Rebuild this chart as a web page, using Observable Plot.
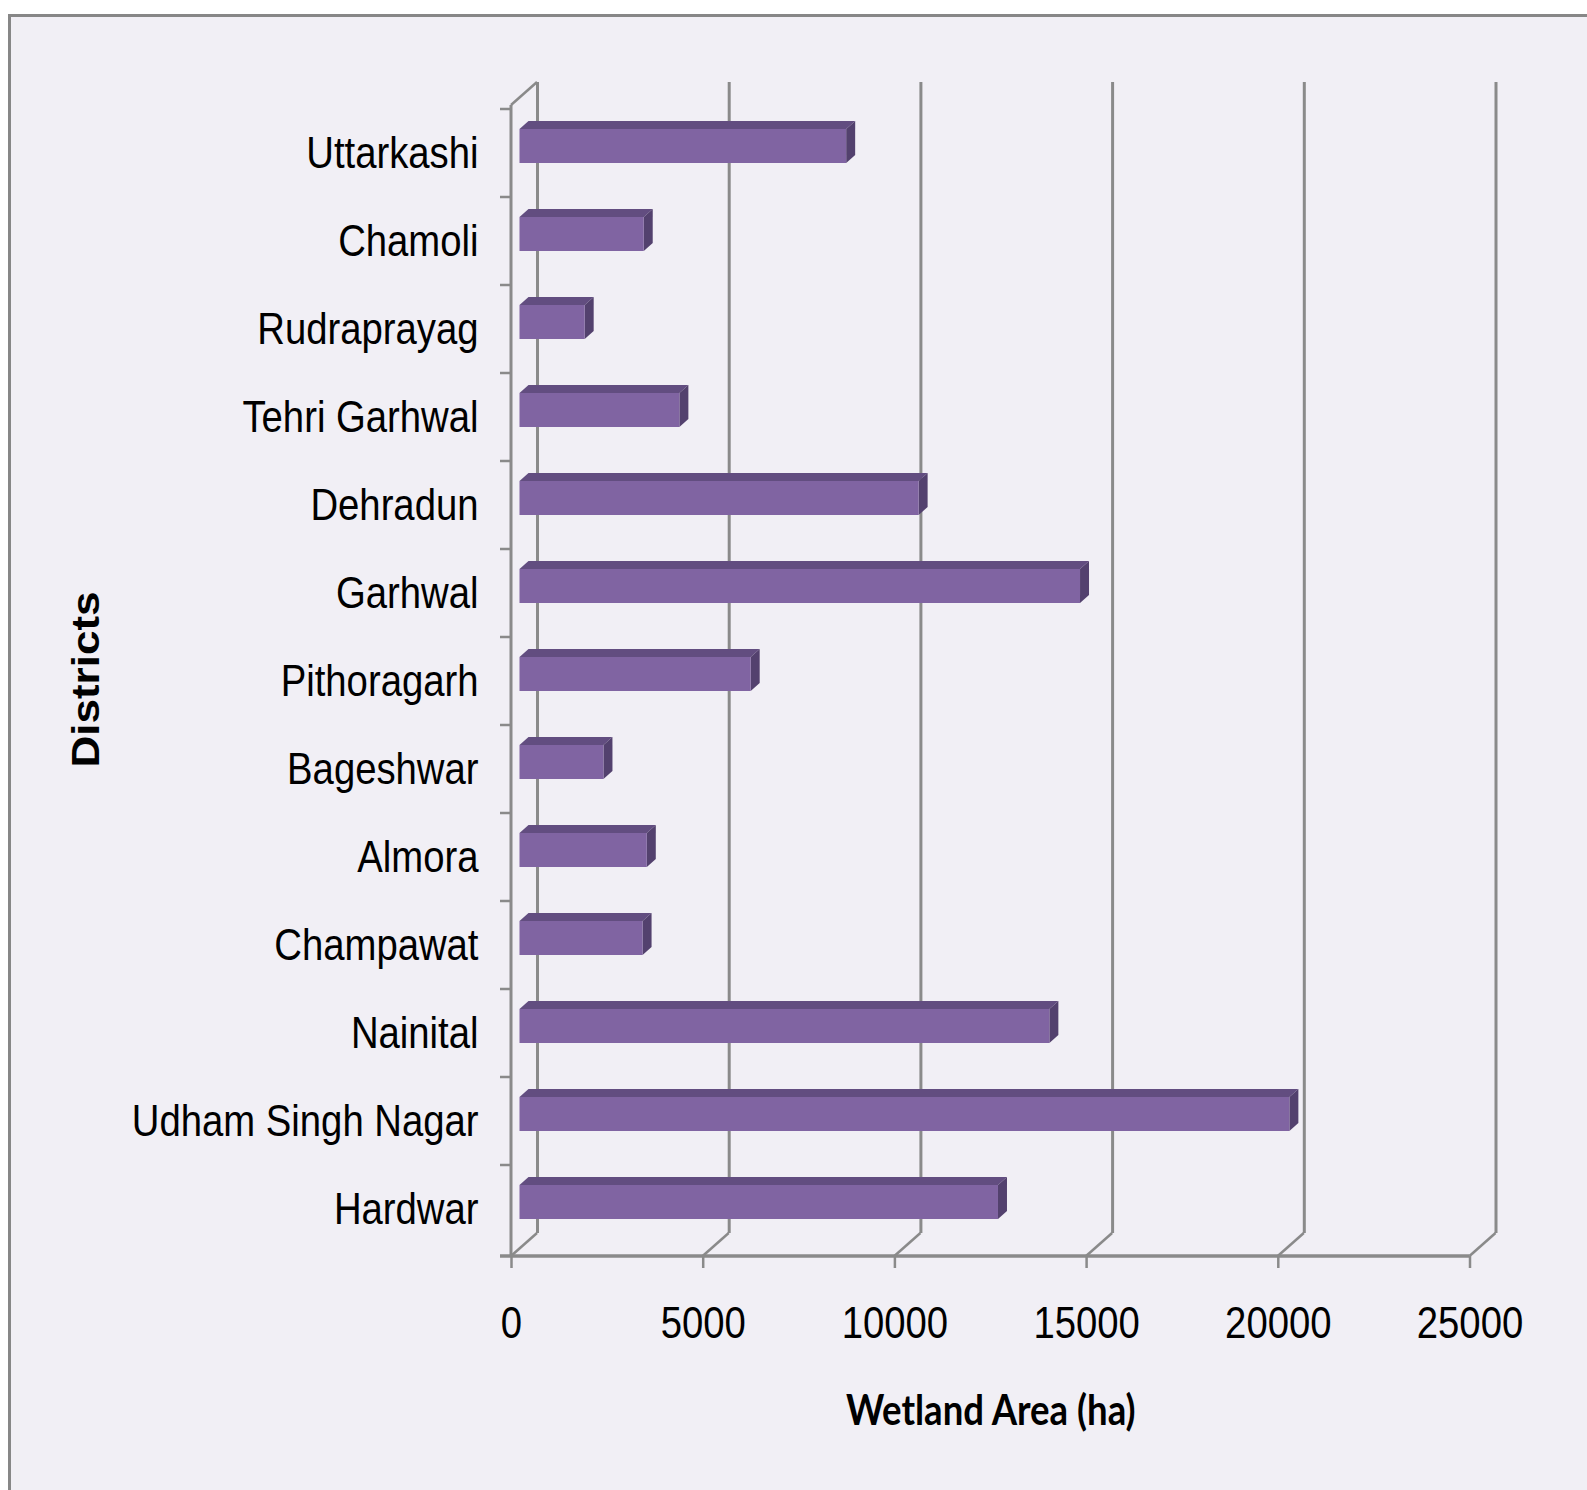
<!DOCTYPE html>
<html>
<head>
<meta charset="utf-8">
<script src="https://cdn.jsdelivr.net/npm/d3@7"></script>
<script src="https://cdn.jsdelivr.net/npm/@observablehq/plot@0.6"></script>
<style>
  html, body { margin: 0; padding: 0; background: #ffffff; overflow: hidden; width: 1587px; height: 1490px; }
  #frame { position: absolute; left: 8px; top: 14px; width: 1600px; height: 1500px;
           border-left: 3.5px solid #878787; border-top: 3.5px solid #878787; background: #f1eff5; }
  #chart { position: absolute; left: 0; top: 0; }
</style>
</head>
<body>
<div id="frame"></div>
<div id="chart"></div>
<script>
// ---- data ----
const districts = ["Uttarkashi", "Chamoli", "Rudraprayag", "Tehri Garhwal", "Dehradun", "Garhwal",
  "Pithoragarh", "Bageshwar", "Almora", "Champawat", "Nainital", "Udham Singh Nagar", "Hardwar"];
const wetlandArea = [8520, 3240, 1700, 4170, 10410, 14620, 6030, 2190, 3320, 3210, 13820, 20080, 12480];
const xTicks = [0, 5000, 10000, 15000, 20000, 25000];
const xTitle = "Wetland Area (ha)";
const yTitle = "Districts";

const rows = districts.map((d, i) => ({district: d, area: wetlandArea[i]}));

// ---- style constants ----
const WALL_DX = 26, WALL_DY = -23;      // depth of the 3-D wall
const BAR_DX = 8.5, BAR_DY = -7;        // bar front face position in depth
const FACE_DX = 9, FACE_DY = -8;        // bar thickness in depth
const GRID = "#8a8a8a";
const FRONT = "#8064a2", TOP = "#624d80", SIDE = "#53416e";
const SQUASH = 0.87;

function bw(y) { return typeof y.bandwidth === "function" ? y.bandwidth() : y.bandwidth; }

// floor / axis decorations drawn with the plot's scales
function axisDecor(index, scales, values, dims) {
  const {x, y} = scales;
  const yb = dims.height - dims.marginBottom;
  const yt = dims.marginTop;
  const g = d3.create("svg:g").attr("stroke", GRID).attr("fill", "none");
  for (const t of xTicks) {
    g.append("line").attr("x1", x(t)).attr("y1", yb).attr("x2", x(t) + WALL_DX).attr("y2", yb + WALL_DY)
      .attr("stroke-width", 2.5);
  }
  g.append("line").attr("x1", x(0)).attr("y1", yt).attr("x2", x(0) + WALL_DX).attr("y2", yt + WALL_DY)
    .attr("stroke-width", 2.5);
  g.append("line").attr("x1", x(0)).attr("y1", yt).attr("x2", x(0)).attr("y2", yb).attr("stroke-width", 3);
  g.append("line").attr("x1", x(0) - 11).attr("y1", yb).attr("x2", x(xTicks[xTicks.length - 1])).attr("y2", yb)
    .attr("stroke-width", 3.5);
  const step = y(districts[1]) - y(districts[0]);
  const off = (step - bw(y)) / 2;
  districts.forEach(d => {
    const yy = y(d) - off;
    g.append("line").attr("x1", x(0) - 11).attr("x2", x(0)).attr("y1", yy).attr("y2", yy).attr("stroke-width", 2.5);
  });
  return g.node();
}

// 3-D top and side faces of the bars
function barFaces(index, scales) {
  const {x, y} = scales;
  const h = bw(y);
  const g = d3.create("svg:g");
  rows.forEach(r => {
    const x0 = x(0) + BAR_DX, x1 = x(r.area) + BAR_DX;
    const top = y(r.district) + BAR_DY, bot = top + h;
    g.append("path").attr("fill", TOP)
      .attr("d", `M${x0},${top}L${x1},${top}L${x1 + FACE_DX},${top + FACE_DY}L${x0 + FACE_DX},${top + FACE_DY}Z`);
    g.append("path").attr("fill", SIDE)
      .attr("d", `M${x1},${top}L${x1 + FACE_DX},${top + FACE_DY}L${x1 + FACE_DX},${bot + FACE_DY}L${x1},${bot}Z`);
  });
  return g.node();
}

const chart = Plot.plot({
  width: 1587,
  height: 1490,
  marginLeft: 511,
  marginRight: 117.5,
  marginTop: 105,
  marginBottom: 234,
  style: {background: "transparent", fontFamily: "'Liberation Sans', Arial, sans-serif", fontSize: "44px", color: "#000", overflow: "visible"},
  x: {domain: [0, 25000], label: null},
  y: {domain: districts, paddingInner: 0.616, paddingOuter: 0.308, label: null},
  marks: [
    Plot.ruleX(xTicks, {stroke: GRID, strokeWidth: 3, dx: WALL_DX, dy: WALL_DY}),
    axisDecor,
    barFaces,
    Plot.barX(rows, {x: "area", y: "district", fill: FRONT, dx: BAR_DX, dy: BAR_DY}),
    Plot.axisX({ticks: xTicks, tickFormat: d3.format("d"), tickSize: 12, tickPadding: 38, stroke: GRID, strokeWidth: 2.5, fill: "#000", fontSize: 44}),
    Plot.axisY({tickSize: 0, tickPadding: 33, fill: "#000", fontSize: 44}),
    Plot.text([xTitle], {frameAnchor: "bottom", textAnchor: "middle", lineAnchor: "middle", dy: 155, fontWeight: "bold", fontSize: 42, fontFamily: "Lato, 'Liberation Sans', sans-serif", fill: "#000"}),
    Plot.text([yTitle], {frameAnchor: "left", textAnchor: "middle", lineAnchor: "middle", rotate: -90, dx: -424.5, dy: -1.5, fontWeight: "bold", fontSize: 44, fill: "#000"})
  ]
});

// horizontally condensed lettering, as in the reference
chart.querySelectorAll("text").forEach(t => {
  const tr = t.getAttribute("transform") || "";
  t.setAttribute("transform", tr + (tr.includes("rotate") ? ` scale(1,${SQUASH})` : ` scale(${SQUASH},1)`));
});

document.getElementById("chart").appendChild(chart);
</script>
</body>
</html>
